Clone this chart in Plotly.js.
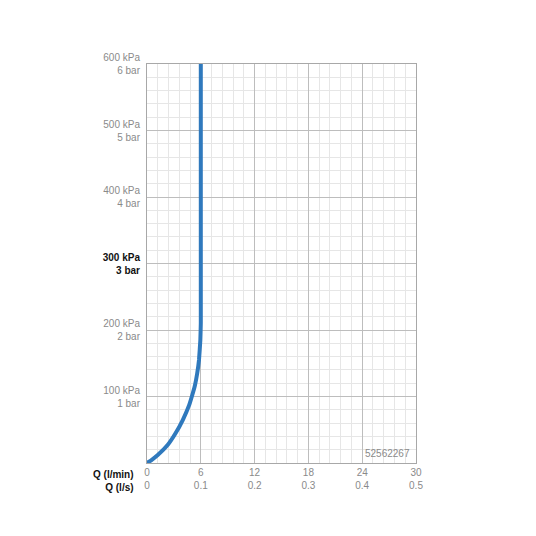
<!DOCTYPE html>
<html><head><meta charset="utf-8">
<script src="https://cdn.plot.ly/plotly-3.0.1.min.js"></script>
<style>html,body{margin:0;padding:0;background:#fff}</style>
</head><body><div id="chart" style="width:536px;height:536px"></div>
<script>
const flowLmin = [0, 0.5, 1.2, 2.3, 3.2, 4.0, 4.7, 5.0, 5.35, 5.6, 5.8, 5.95, 6.0, 6.0];
const pressureKPa = [0, 4.5, 12, 27, 45, 65, 87, 100, 117, 135, 155, 185, 210, 600];
const xTickVals = [0, 6, 12, 18, 24, 30];
const xTickLmin = ['0', '6', '12', '18', '24', '30'];
const xTickLs = ['0', '0.1', '0.2', '0.3', '0.4', '0.5'];
const yTickVals = [100, 200, 300, 400, 500, 600];
const yTickKPa = ['100 kPa', '200 kPa', '300 kPa', '400 kPa', '500 kPa', '600 kPa'];
const yTickBar = ['1 bar', '2 bar', '3 bar', '4 bar', '5 bar', '6 bar'];
const boldY = 300;
const codeLabel = '52562267';

const xText = xTickLmin.map((t, i) => t + '<br>' + xTickLs[i]);
const yText = yTickKPa.map((t, i) => yTickVals[i] === boldY
  ? '<span style="color:#111"><b>' + t + '<br>' + yTickBar[i] + '</b></span>'
  : t + '<br>' + yTickBar[i]);

const trace = {
  x: flowLmin, y: pressureKPa, type: 'scatter', mode: 'lines',
  line: {color: '#2f79bd', width: 4, shape: 'spline', smoothing: 0.3},
  hoverinfo: 'skip', cliponaxis: true
};

const layout = {
  width: 536, height: 536,
  margin: {l: 147, r: 120, t: 64, b: 73},
  paper_bgcolor: '#fff', plot_bgcolor: '#fff',
  showlegend: false,
  font: {family: 'Liberation Sans, Arial, sans-serif', size: 10, color: '#8a8a8a'},
  xaxis: {
    range: [0, 30], tickvals: xTickVals, ticktext: xText, ticks: '',
    showgrid: true, gridcolor: '#bdbdbd', gridwidth: 1,
    minor: {dtick: 1.2, showgrid: true, gridcolor: '#e6e6e6', gridwidth: 1},
    showline: true, linecolor: '#a8a8a8', linewidth: 1, mirror: true,
    zeroline: false, fixedrange: true, tickfont: {size: 10, color: '#8a8a8a'}
  },
  yaxis: {
    range: [0, 600], tickvals: yTickVals, ticktext: yText, ticks: '',
    showgrid: true, gridcolor: '#bdbdbd', gridwidth: 1,
    minor: {dtick: 20, showgrid: true, gridcolor: '#e6e6e6', gridwidth: 1},
    showline: true, linecolor: '#a8a8a8', linewidth: 1, mirror: true,
    zeroline: false, fixedrange: true, ticklabelstandoff: 4,
    tickfont: {size: 10, color: '#8a8a8a'}
  },
  annotations: [
    {xref: 'paper', yref: 'paper', x: -0.04, y: 0, yshift: -4, xanchor: 'right', yanchor: 'top',
     text: '<b>Q (l/min)</b><br><b>Q (l/s)</b>', align: 'right', showarrow: false,
     font: {size: 10, color: '#111'}},
    {xref: 'paper', yref: 'paper', x: 0.985, y: 0, yshift: 2, xanchor: 'right', yanchor: 'bottom',
     text: codeLabel, showarrow: false, font: {size: 10, color: '#8a8a8a'}}
  ]
};

Plotly.newPlot('chart', [trace], layout, {displayModeBar: false, staticPlot: true});
</script></body></html>
